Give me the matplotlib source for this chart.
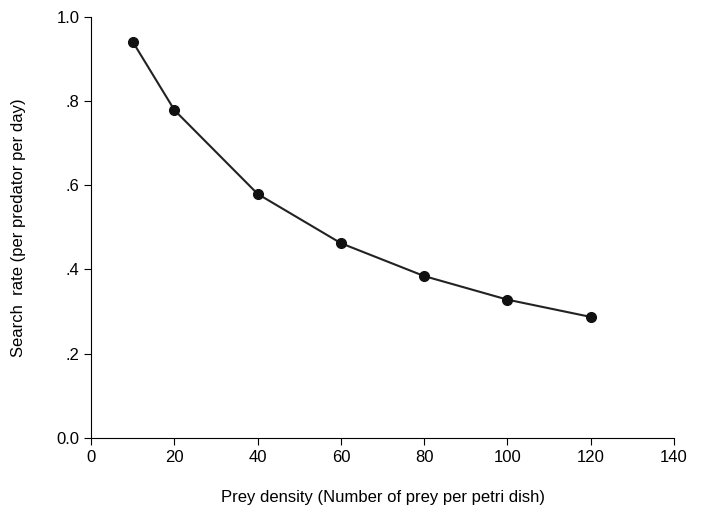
import matplotlib.pyplot as plt

prey_density = [10, 20, 40, 60, 80, 100, 120]
search_rate = [0.94, 0.778, 0.579, 0.462, 0.384, 0.328, 0.287]

x_ticks = [0, 20, 40, 60, 80, 100, 120, 140]
y_ticks = [0.0, 0.2, 0.4, 0.6, 0.8, 1.0]
y_labels = ['0.0', '.2', '.4', '.6', '.8', '1.0']

plt.rcParams['font.family'] = ['Liberation Sans', 'DejaVu Sans']

fig = plt.figure(figsize=(7.02, 5.23), dpi=100)
ax = fig.add_axes([0.13, 0.163, 0.83, 0.805])

ax.plot(prey_density, search_rate, color='#222222', linewidth=1.5,
        marker='o', markersize=7, markerfacecolor='#111111', markeredgecolor='#111111')

ax.set_xlim(0, 140)
ax.set_ylim(0, 1.0)
ax.set_xticks(x_ticks)
ax.set_yticks(y_ticks)
ax.set_yticklabels(y_labels)
ax.tick_params(labelsize=12, direction='out', length=5)

for side in ['top', 'right']:
    ax.spines[side].set_visible(False)

ax.set_xlabel('Prey density (Number of prey per petri dish)', fontsize=12, labelpad=18)
ax.set_ylabel('Search  rate (per predator per day)', fontsize=12, labelpad=22)

fig.savefig('out.png', dpi=100)
